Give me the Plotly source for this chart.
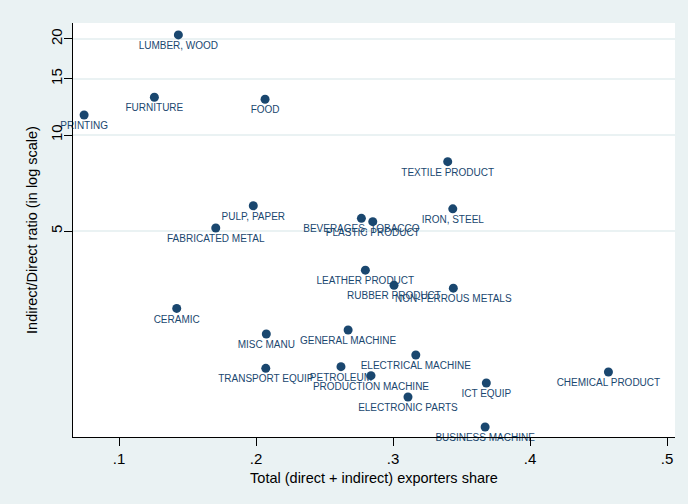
import numpy as np
import plotly.graph_objects as go

# Industry-level exporter shares and indirect/direct exporter ratios
industries = [
    "PRINTING", "LUMBER, WOOD", "FURNITURE", "FOOD", "PULP, PAPER",
    "FABRICATED METAL", "BEVERAGES, TOBACCO", "PLASTIC PRODUCT",
    "TEXTILE PRODUCT", "IRON, STEEL", "LEATHER PRODUCT", "RUBBER PRODUCT",
    "NON-FERROUS METALS", "CERAMIC", "MISC MANU", "GENERAL MACHINE",
    "ELECTRICAL MACHINE", "TRANSPORT EQUIP", "PETROLEUM",
    "PRODUCTION MACHINE", "ELECTRONIC PARTS", "ICT EQUIP",
    "CHEMICAL PRODUCT", "BUSINESS MACHINE",
]
exporter_share = [
    0.0745, 0.1433, 0.1258, 0.2066, 0.1980,
    0.1706, 0.2769, 0.2852,
    0.3399, 0.3436, 0.2798, 0.3007,
    0.3440, 0.1421, 0.2075, 0.2672,
    0.3166, 0.2071, 0.2620,
    0.2839, 0.3109, 0.3681,
    0.4572, 0.3672,
]
indirect_direct_ratio = [
    11.55, 20.6, 13.13, 12.94, 6.00,
    5.11, 5.48, 5.35,
    8.25, 5.87, 3.77, 3.38,
    3.31, 2.86, 2.378, 2.447,
    2.043, 1.856, 1.878,
    1.760, 1.509, 1.670,
    1.807, 1.215,
]

x_ticks = [0.1, 0.2, 0.3, 0.4, 0.5]
x_tick_text = [".1", ".2", ".3", ".4", ".5"]
y_ticks = [5, 10, 15, 20]

navy = "#1a476f"
bg = "#eaf2f3"
font_family = "Liberation Sans, Arial, sans-serif"

fig = go.Figure(
    go.Scatter(
        x=exporter_share,
        y=indirect_direct_ratio,
        mode="markers+text",
        text=industries,
        textposition="bottom center",
        textfont=dict(family=font_family, size=10, color=navy),
        marker=dict(color=navy, size=9, line=dict(width=0)),
        cliponaxis=False,
        hoverinfo="skip",
    )
)

fig.update_layout(
    width=688,
    height=504,
    paper_bgcolor=bg,
    plot_bgcolor="white",
    margin=dict(l=73, r=13, t=23, b=67),
    showlegend=False,
    font=dict(family=font_family, color="black"),
)

fig.update_xaxes(
    range=[0.0664, 0.5058],
    tickvals=x_ticks,
    ticktext=x_tick_text,
    ticks="outside",
    ticklen=8,
    tickcolor="black",
    showline=True,
    linecolor="black",
    linewidth=1,
    showgrid=False,
    zeroline=False,
    tickfont=dict(size=15),
    title=dict(text="Total (direct + indirect) exporters share", font=dict(size=14.5), standoff=6),
)

fig.update_yaxes(
    type="log",
    range=[0.0533, 1.3511],
    tickvals=y_ticks,
    ticktext=[str(v) for v in y_ticks],
    tickangle=-90,
    ticks="outside",
    ticklen=8,
    tickcolor="black",
    ticklabelstandoff=-4,
    showline=True,
    linecolor="black",
    linewidth=1,
    showgrid=True,
    gridcolor=bg,
    gridwidth=1.5,
    zeroline=False,
    tickfont=dict(size=15),
    title=dict(text="Indirect/Direct ratio (in log scale)", font=dict(size=14.5), standoff=6),
)

fig.write_html("out.html")
